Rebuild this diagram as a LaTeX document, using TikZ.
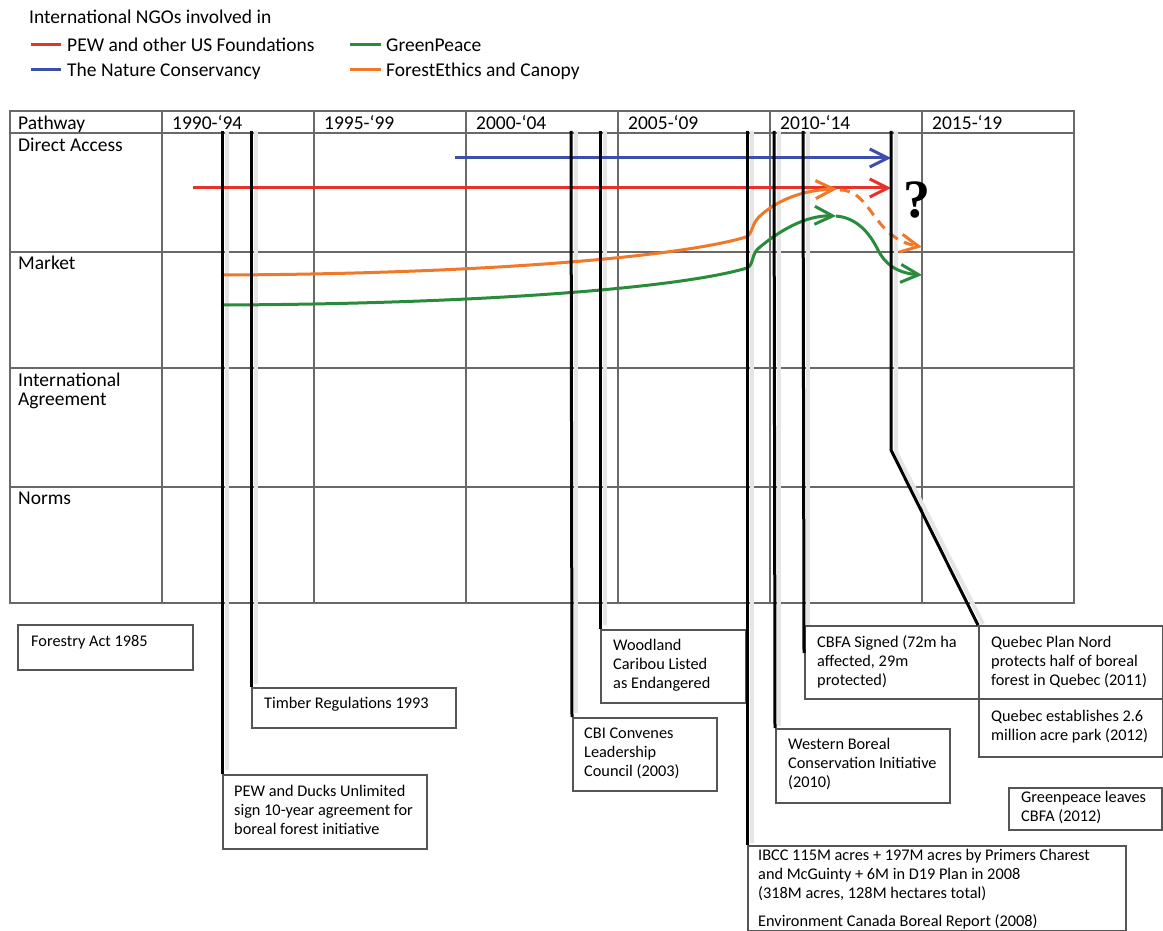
\documentclass[tikz,border=0pt]{standalone}
\usepackage{fontspec}
\setmainfont{Carlito}
\newfontfamily\qmarkfont{Liberation Serif}
\usetikzlibrary{arrows.meta}
\definecolor{cred}{RGB}{230,50,40}
\definecolor{cblue}{RGB}{60,80,170}
\definecolor{cgreen}{RGB}{40,140,60}
\definecolor{corange}{RGB}{240,120,40}
\definecolor{gridc}{RGB}{105,105,105}
\definecolor{boxc}{RGB}{85,85,85}
\tikzset{
  gridline/.style={draw=gridc, line width=1.5pt},
  evline/.style={draw=black, line width=3pt},
  evshadow/.style={draw=black!10, line width=4pt},
  evbox/.style={draw=boxc, line width=2pt, fill=white, anchor=north west, inner sep=0pt},
  evtext/.style={anchor=north west, align=left, font=\fontsize{16.3}{19}\selectfont, inner sep=0pt},
  bigtext/.style={anchor=base west, font=\fontsize{19.5}{19.5}\selectfont, inner sep=0pt},
  bigml/.style={anchor=north west, align=left, font=\fontsize{19.5}{19.5}\selectfont, inner sep=0pt},
  ngo/.style={line width=3pt, -{Straight Barb[length=18pt,width=18pt]}},
  swatch/.style={line width=3pt},
}
\begin{document}
\begin{tikzpicture}[x=1pt,y=-1pt]
\fill[white] (0,0) rectangle (1163,931);
\useasboundingbox (0,0) rectangle (1163,931);

% legend
\node[bigtext] (lg0) at (29,23.3) {International NGOs involved in};
\draw[swatch, cred] (31,45) -- (61,45);
\node[bigtext] (lg1) at (67,51.3) {PEW and other US Foundations};
\draw[swatch, cgreen] (350,45) -- (381,45);
\node[bigtext] (lg2) at (386,51.3) {GreenPeace};
\draw[swatch, cblue] (31,70) -- (61,70);
\node[bigtext] (lg3) at (67,76.3) {The Nature Conservancy};
\draw[swatch, corange] (350,70) -- (381,70);
\node[bigtext] (lg4) at (386,76.3) {ForestEthics and Canopy};

% table grid
\draw[gridline] (10,111) rectangle (1074,603);
\foreach \y in {133,252,368,487} \draw[gridline] (10,\y) -- (1074,\y);
\foreach \x in {162,314,466,618,770,922} \draw[gridline] (\x,111) -- (\x,603);

% header
\node[bigtext] (h0) at (18,129.3) {Pathway};
\node[bigtext] (h1) at (172,129.3) {1990-‘94};
\node[bigtext] (h2) at (324,129.3) {1995-‘99};
\node[bigtext] (h3) at (476,129.3) {2000-‘04};
\node[bigtext] (h4) at (628,129.3) {2005-‘09};
\node[bigtext] (h5) at (780,129.3) {2010-‘14};
\node[bigtext] (h6) at (932,129.3) {2015-‘19};
\node[bigtext] (r1) at (18,151.3) {Direct Access};
\node[bigtext] (r2) at (18,269.3) {Market};
\node[bigml] (r3) at (18,372.6) {\strut International\\Agreement};
\node[bigtext] (r4) at (18,504.3) {Norms};

% shadows of the event lines
\foreach \x/\ya/\yb in {222/131/770,251/131/684,571/131/713,600/131/625,747/131/843,774/131/726,803/131/653}
  \draw[evshadow] (\x+5,\ya) -- (\x+5,\yb);
\draw[evshadow] (896,131) -- (896,452) -- (983,624);

% NGO pathways
\draw[ngo, cblue] (455,158) -- (891,158);
\draw[ngo, cred] (193,188) -- (891,188);
\draw[ngo, corange] (222,275) .. controls (480,274) and (680,257) .. (746,237)
  .. controls (753,234) and (751,224) .. (760,216)
  .. controls (775,202) and (800,190) .. (837,189);
\draw[ngo, corange, dash pattern=on 10pt off 7pt] (840,190) .. controls (872,190) and (872,238) .. (922,247);
\draw[ngo, cgreen] (222,305) .. controls (480,304) and (680,288) .. (747,268)
  .. controls (754,265) and (751,253) .. (760,247)
  .. controls (778,232) and (805,215) .. (836,216);
\draw[ngo, cgreen] (836,216) .. controls (860,218) and (872,238) .. (878,250)
  .. controls (884,262) and (895,273) .. (922,275);
\node (qm) at (917,200) {\qmarkfont\bfseries\fontsize{54}{54}\selectfont ?};

% event boxes
\node[evbox, minimum width=175pt, minimum height=45pt] (forestry) at (17,624) {};
\node[evtext] (forestry-t) at (31,632.9) {\strut Forestry Act 1985};
\node[evbox, minimum width=204pt, minimum height=40pt] (timber) at (251,687) {};
\node[evtext] (timber-t) at (264,694.9) {\strut Timber Regulations 1993};
\node[evbox, minimum width=204pt, minimum height=74pt] (pew) at (222,774) {};
\node[evtext] (pew-t) at (234,782.9) {\strut PEW and Ducks Unlimited\\sign 10-year agreement for\\boreal forest initiative};
\node[evbox, minimum width=144pt, minimum height=73pt] (cbi) at (572,717) {};
\node[evtext] (cbi-t) at (584,724.9) {\strut CBI Convenes\\Leadership\\Council (2003)};
\node[evbox, minimum width=145pt, minimum height=73pt] (woodland) at (600,629) {};
\node[evtext] (woodland-t) at (613,636.9) {\strut Woodland\\Caribou Listed\\as Endangered};
\node[evbox, minimum width=378pt, minimum height=85pt] (ibcc) at (747,845) {};
\node[evtext] (ibcc-t) at (758,846.9) {\strut IBCC 115M acres + 197M acres by Primers Charest\\and McGuinty + 6M in D19 Plan in 2008\\(318M acres, 128M hectares total)\\[9pt]Environment Canada Boreal Report (2008)};
\node[evbox, minimum width=174pt, minimum height=74pt] (western) at (775,728) {};
\node[evtext] (western-t) at (788,735.9) {\strut Western Boreal\\Conservation Initiative\\(2010)};
\node[evbox, minimum width=174pt, minimum height=73pt] (cbfa) at (804,625) {};
\node[evtext] (cbfa-t) at (817,633.9) {\strut CBFA Signed (72m ha\\affected, 29m\\protected)};
\node[evbox, minimum width=184pt, minimum height=73pt] (qpn) at (978,625) {};
\node[evtext] (qpn-t) at (991,633.9) {\strut Quebec Plan Nord\\protects half of boreal\\forest in Quebec (2011)};
\node[evbox, minimum width=184pt, minimum height=58pt] (qest) at (978,698) {};
\node[evtext] (qest-t) at (991,707.9) {\strut Quebec establishes 2.6\\million acre park (2012)};
\node[evbox, minimum width=153pt, minimum height=42pt] (gpl) at (1008,787) {};
\node[evtext] (gpl-t) at (1021,788.9) {\strut Greenpeace leaves\\CBFA (2012)};

% event lines
\coordinate (a1) at (222,131);
\coordinate (a2) at (251,131);
\coordinate (a3) at (571,131);
\coordinate (a4) at (600,131);
\coordinate (a5) at (747,131);
\coordinate (a6) at (774,131);
\coordinate (a7) at (803,131);
\coordinate (a8) at (891,131);
\coordinate (k8) at (891,450);
\draw[evline] (a1) -- (pew.north west);
\draw[evline] (a2) -- (timber.north west);
\draw[evline] (a3) -- (cbi.north west);
\draw[evline] (a4) -- (woodland.north west);
\draw[evline] (a5) -- (ibcc.north west);
\draw[evline] (a6) -- (western.north west);
\draw[evline] (a7) -- ([yshift=-28pt]cbfa.north west);
\draw[evline] (a8) -- (k8) -- (qpn.north west);
\end{tikzpicture}
\end{document}
